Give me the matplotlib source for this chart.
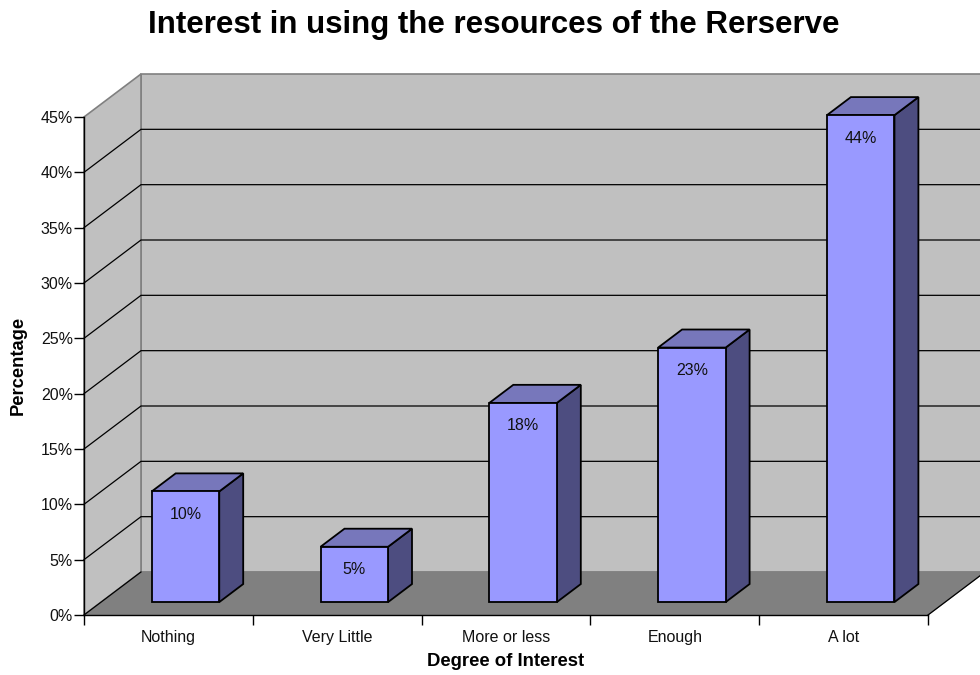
#!/usr/bin/env python3
"""Excel style 3D column chart, drawn as an oblique projection on a plain axes."""
import matplotlib

matplotlib.use("Agg")
import matplotlib.pyplot as plt
from matplotlib.patches import Polygon

categories = ["Nothing", "Very Little", "More or less", "Enough", "A lot"]
values = [10, 5, 18, 23, 44]
value_labels = ["10%", "5%", "18%", "23%", "44%"]
y_ticks = [0, 5, 10, 15, 20, 25, 30, 35, 40, 45]

W, H = 980, 675
LEFT, RIGHT, BOTTOM, TOP = 84, 928, 615, 117

# full depth of the chart box, in data units (57 px right, 43 px up)
DEPTH_X = 57 / ((RIGHT - LEFT) / len(categories))
DEPTH_Y = 43 / ((BOTTOM - TOP) / y_ticks[-1])
BAR_W = 0.40
BAR_D0, BAR_D1 = 0.30, 0.72


def proj(x, y, d):
    return x + d * DEPTH_X, y + d * DEPTH_Y


def quad(ax, pts, face, edge="black", lw=1.3, z=1):
    ax.add_patch(Polygon([proj(*p) for p in pts], closed=True, facecolor=face,
                         edgecolor=edge, linewidth=lw, zorder=z, clip_on=False,
                         joinstyle="miter"))


fig = plt.figure(figsize=(W / 100, H / 100), dpi=100, facecolor="white")
plt.rcParams["font.family"] = ["Liberation Sans", "DejaVu Sans"]
ax = fig.add_axes([LEFT / W, 1 - BOTTOM / H, (RIGHT - LEFT) / W, (BOTTOM - TOP) / H])
n = len(categories)
ymax = y_ticks[-1]
ax.set_xlim(0, n)
ax.set_ylim(0, ymax)
ax.patch.set_visible(False)

# walls and floor
quad(ax, [(0, 0, 1), (n, 0, 1), (n, ymax, 1), (0, ymax, 1)], "#c0c0c0", "#808080", 1.2, 1)
quad(ax, [(0, 0, 0), (0, 0, 1), (0, ymax, 1), (0, ymax, 0)], "#c0c0c0", "#808080", 1.2, 1)
quad(ax, [(0, 0, 0), (n, 0, 0), (n, 0, 1), (0, 0, 1)], "#808080", "#808080", 0.8, 2)

# gridlines run along the side wall, then across the back (the 45% one is the grey wall edge)
for t in y_ticks[1:-1]:
    xs, ys = zip(proj(0, t, 0), proj(0, t, 1), proj(n, t, 1))
    ax.plot(xs, ys, color="black", lw=0.9, zorder=3, clip_on=False, solid_joinstyle="miter")

# floor front and right edges
xs, ys = zip(proj(0, 0, 0), proj(0, 0, 1))
ax.plot(xs, ys, color="black", lw=0.9, zorder=3, clip_on=False)
xs, ys = zip(proj(n, 0, 0), proj(n, 0, 1))
ax.plot(xs, ys, color="black", lw=0.9, zorder=3, clip_on=False)

for i, (v, lab) in enumerate(zip(values, value_labels)):
    x0 = i + 0.5 - BAR_W / 2
    x1 = i + 0.5 + BAR_W / 2
    quad(ax, [(x1, 0, BAR_D0), (x1, 0, BAR_D1), (x1, v, BAR_D1), (x1, v, BAR_D0)], "#4d4d80", z=4)
    quad(ax, [(x0, v, BAR_D0), (x1, v, BAR_D0), (x1, v, BAR_D1), (x0, v, BAR_D1)], "#7777bb", z=4)
    quad(ax, [(x0, 0, BAR_D0), (x1, 0, BAR_D0), (x1, v, BAR_D0), (x0, v, BAR_D0)], "#9999ff", z=5)
    tx, ty = proj(i + 0.5, v, BAR_D0)
    ax.annotate(lab, (tx, ty), xytext=(0, -23), textcoords="offset pixels", ha="center",
                va="center", fontsize=11.5, color="#111111", zorder=6, annotation_clip=False)

for s in ("top", "right"):
    ax.spines[s].set_visible(False)
for s in ("left", "bottom"):
    ax.spines[s].set_linewidth(1.0)
    ax.spines[s].set_zorder(7)

ax.set_yticks(y_ticks)
ax.set_yticklabels([f"{t}%" for t in y_ticks], fontsize=11.5, color="#111111")
ax.set_xticks(range(n + 1))
ax.set_xticklabels([])
ax.set_xticks([i + 0.5 for i in range(n)], labels=categories, minor=True, fontsize=11.5,
              color="#111111")
ax.tick_params(axis="x", which="minor", length=0, pad=11)
ax.tick_params(axis="x", which="major", length=7, width=1.0)
ax.tick_params(axis="y", length=7, width=1.0, pad=1)

fig.text(493.5 / W, 1 - 24.5 / H, "Interest in using the resources of the Rerserve", ha="center",
         va="center", fontsize=22.5, fontweight="bold")
fig.text(506 / W, 1 - 661 / H, "Degree of Interest", ha="center", va="center", fontsize=13.3,
         fontweight="bold")
fig.text(18 / W, 1 - 365 / H, "Percentage", rotation=90, ha="center", va="center",
         fontsize=13.2, fontweight="bold")

fig.savefig("out.png", dpi=100)
